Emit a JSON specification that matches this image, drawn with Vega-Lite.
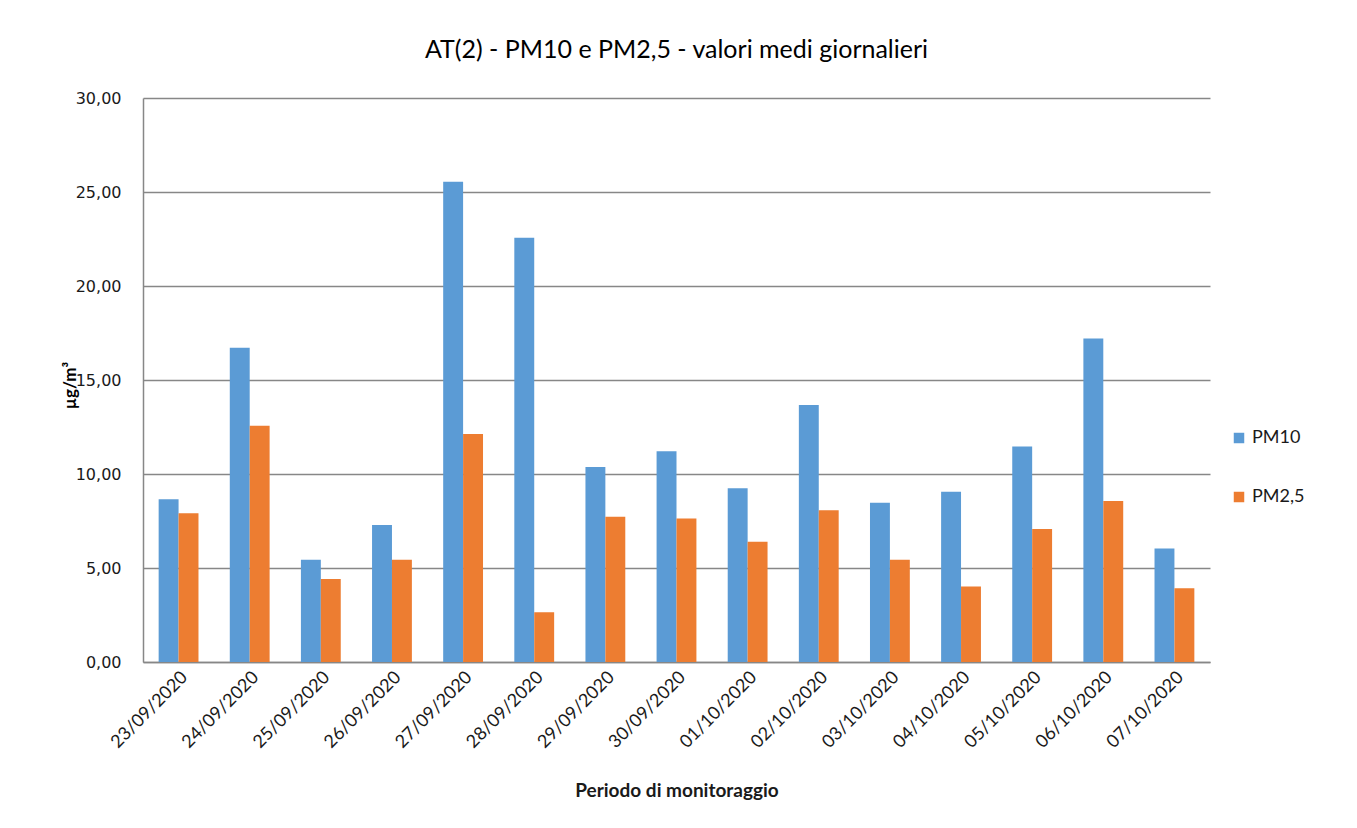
{
  "$schema": "https://vega.github.io/schema/vega-lite/v6.json",
  "width": 1067,
  "height": 564,
  "autosize": "none",
  "padding": {"left": 143, "top": 98, "right": 147, "bottom": 166},
  "background": "white",
  "config": {
    "locale": {"number": {"decimal": ",", "thousands": ".", "grouping": [3], "currency": ["€", ""]}},
    "font": "Lato",
    "view": {"stroke": null}
  },
  "title": {
    "text": "AT(2) - PM10 e PM2,5 - valori medi giornalieri",
    "fontSize": 25,
    "fontWeight": "normal",
    "font": "Lato",
    "color": "#000000",
    "anchor": "middle",
    "offset": 27
  },
  "data": {
    "values": [
      {"data": "23/09/2020", "serie": "PM10", "valore": 8.66},
      {"data": "23/09/2020", "serie": "PM2,5", "valore": 7.91},
      {"data": "24/09/2020", "serie": "PM10", "valore": 16.72},
      {"data": "24/09/2020", "serie": "PM2,5", "valore": 12.57},
      {"data": "25/09/2020", "serie": "PM10", "valore": 5.44},
      {"data": "25/09/2020", "serie": "PM2,5", "valore": 4.42},
      {"data": "26/09/2020", "serie": "PM10", "valore": 7.29},
      {"data": "26/09/2020", "serie": "PM2,5", "valore": 5.44},
      {"data": "27/09/2020", "serie": "PM10", "valore": 25.55},
      {"data": "27/09/2020", "serie": "PM2,5", "valore": 12.13},
      {"data": "28/09/2020", "serie": "PM10", "valore": 22.56},
      {"data": "28/09/2020", "serie": "PM2,5", "valore": 2.65},
      {"data": "29/09/2020", "serie": "PM10", "valore": 10.37},
      {"data": "29/09/2020", "serie": "PM2,5", "valore": 7.73},
      {"data": "30/09/2020", "serie": "PM10", "valore": 11.21},
      {"data": "30/09/2020", "serie": "PM2,5", "valore": 7.63},
      {"data": "01/10/2020", "serie": "PM10", "valore": 9.24},
      {"data": "01/10/2020", "serie": "PM2,5", "valore": 6.39},
      {"data": "02/10/2020", "serie": "PM10", "valore": 13.67},
      {"data": "02/10/2020", "serie": "PM2,5", "valore": 8.07},
      {"data": "03/10/2020", "serie": "PM10", "valore": 8.47},
      {"data": "03/10/2020", "serie": "PM2,5", "valore": 5.44},
      {"data": "04/10/2020", "serie": "PM10", "valore": 9.06},
      {"data": "04/10/2020", "serie": "PM2,5", "valore": 4.01},
      {"data": "05/10/2020", "serie": "PM10", "valore": 11.46},
      {"data": "05/10/2020", "serie": "PM2,5", "valore": 7.07},
      {"data": "06/10/2020", "serie": "PM10", "valore": 17.21},
      {"data": "06/10/2020", "serie": "PM2,5", "valore": 8.56},
      {"data": "07/10/2020", "serie": "PM10", "valore": 6.04},
      {"data": "07/10/2020", "serie": "PM2,5", "valore": 3.92}
    ]
  },
  "mark": {"type": "bar"},
  "encoding": {
    "x": {
      "field": "data",
      "type": "nominal",
      "sort": null,
      "scale": {"paddingInner": 0.44, "paddingOuter": 0.22},
      "axis": {
        "title": "Periodo di monitoraggio",
        "titleFont": "Lato",
        "titleFontSize": 19,
        "titleFontWeight": "bold",
        "titleColor": "#1a1a1a",
        "titlePadding": 30,
        "labelAngle": -45,
        "labelFont": "Lato",
        "labelFontSize": 18,
        "labelColor": "#1a1a1a",
        "labelPadding": 6,
        "ticks": false,
        "domainColor": "#878787",
        "domainWidth": 1.5
      }
    },
    "xOffset": {"field": "serie", "type": "nominal", "sort": ["PM10", "PM2,5"]},
    "y": {
      "field": "valore",
      "type": "quantitative",
      "scale": {"domain": [0, 30], "nice": false},
      "axis": {
        "title": "µg/m³",
        "titleFont": "Lato",
        "titleFontSize": 17,
        "titleFontWeight": "bold",
        "titleColor": "#000000",
        "titleX": -64,
        "titleY": 287,
        "titleAngle": -90,
        "values": [0, 5, 10, 15, 20, 25, 30],
        "format": ".2f",
        "labelFont": "DejaVu Sans",
        "labelFontSize": 16,
        "labelColor": "#1a1a1a",
        "labelPadding": 22,
        "ticks": false,
        "grid": true,
        "gridColor": "#878787",
        "gridWidth": 1.3,
        "domainColor": "#878787",
        "domainWidth": 1.5
      }
    },
    "color": {
      "field": "serie",
      "type": "nominal",
      "sort": ["PM10", "PM2,5"],
      "scale": {"domain": ["PM10", "PM2,5"], "range": ["#5B9BD5", "#ED7D31"]},
      "legend": {
        "title": null,
        "orient": "none",
        "legendX": 1087,
        "legendY": 331,
        "symbolType": "square",
        "symbolSize": 110,
        "symbolStrokeWidth": 0,
        "labelFont": "Lato",
        "labelFontSize": 18,
        "labelColor": "#1a1a1a",
        "rowPadding": 41,
        "labelOffset": 4
      }
    }
  }
}
